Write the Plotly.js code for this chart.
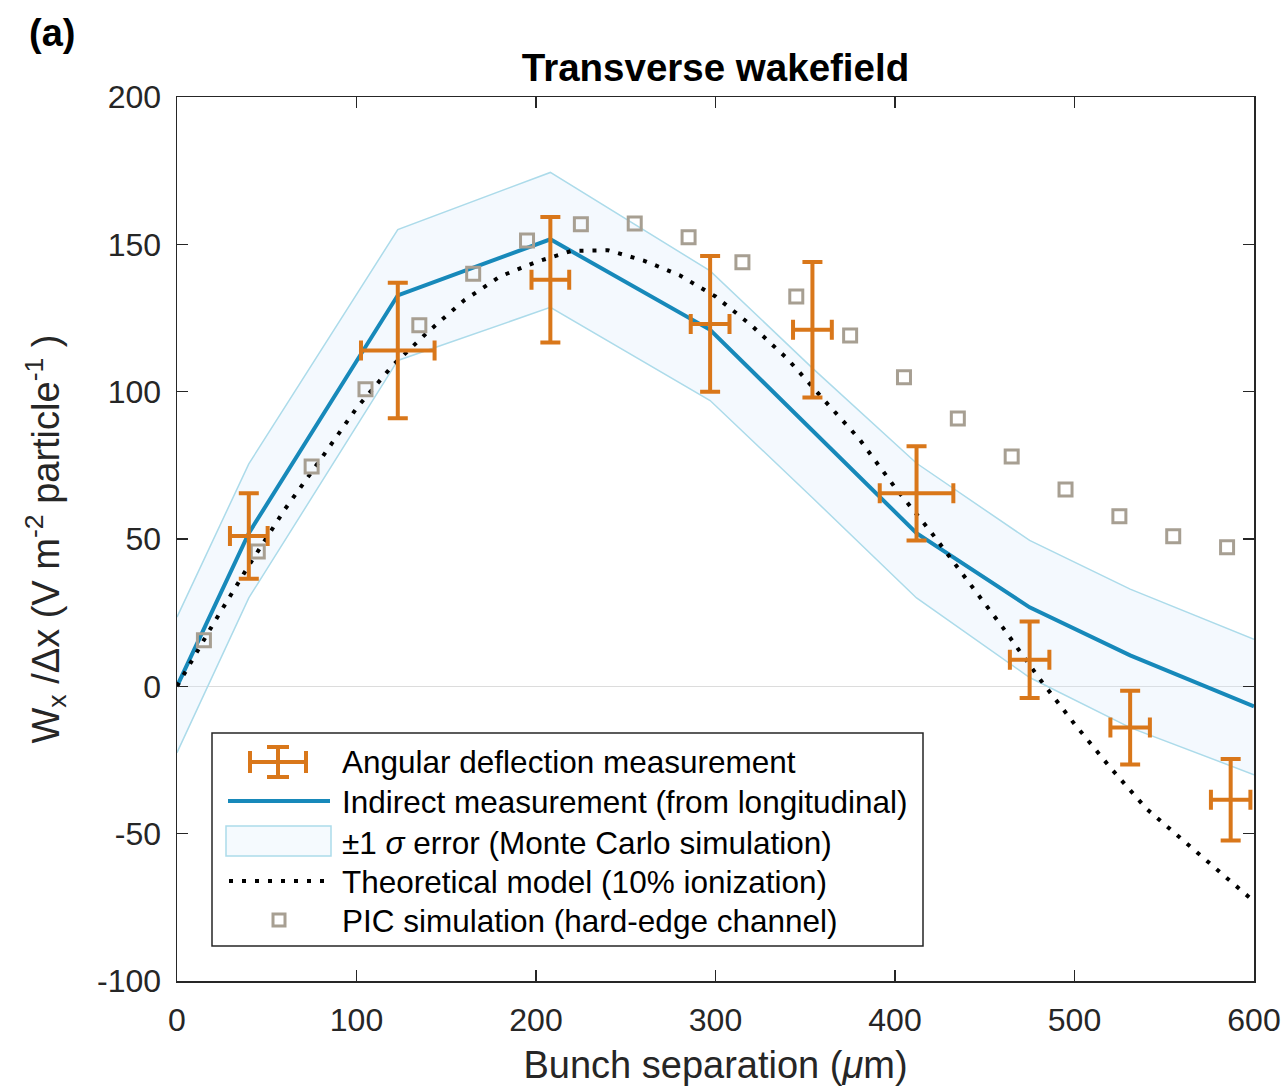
<!DOCTYPE html>
<html>
<head>
<meta charset="utf-8">
<script src="https://cdn.plot.ly/plotly-3.0.1.min.js"></script>
<style>html,body{margin:0;padding:0;background:#fff;}#chart{width:1284px;height:1088px;}</style>
</head>
<body>
<div id="chart"></div>
<script>
// ---- Data ----
// Angular deflection measurement
const measX    = [40, 123, 208, 297, 354, 412, 475, 531, 587];
const measY    = [51, 114, 138, 123, 121, 65.5, 9, -14, -38.5];
const measYErr = [14.5, 23, 21.3, 23, 23, 16, 13, 12.5, 13.8];
const measXErr = [10.5, 20.5, 10.5, 10.8, 10.8, 20.5, 11, 11, 11];

// Indirect measurement (from longitudinal) and ±1 sigma band
const indX     = [0, 40, 123, 208, 297, 354, 412, 475, 531, 600];
const indY     = [0, 52, 132.7, 151.7, 121, 87, 52, 26.8, 10.5, -6.8];
const bandUp   = [23.5, 75.5, 155, 174.4, 141, 108, 75.7, 49.5, 33, 16];
const bandLow  = [-22.5, 30, 110.6, 128.6, 97, 64, 30, 3, -14, -30];

// Theoretical model (10% ionization)
const theoX = [0, 20, 40, 60, 80, 100, 120, 140, 160, 180, 200, 220, 240, 260, 280, 300,
               320, 340, 360, 380, 400, 420, 440, 460, 480, 500, 520, 540, 560, 580, 600];
const theoY = [0, 21, 41, 60, 77, 94.4, 108.8, 120.4, 131, 139.1, 144, 147.8, 148, 144.5, 139.5, 132.3,
               122.5, 111.2, 97.5, 84, 67.5, 52.4, 36.2, 20, 3, -12.8, -27.6, -41.5, -52, -62.7, -73];

// PIC simulation (hard-edge channel)
const picX = [15, 45, 75, 105, 135, 165, 195, 225, 255, 285, 315, 345, 375, 405, 435, 465, 495, 525, 555, 585];
const picY = [15.6, 45.8, 74.6, 100.8, 122.5, 140, 151.3, 156.8, 157.1, 152.4, 143.9, 132.3, 119.1, 104.9, 90.9, 78, 66.8, 57.7, 50.9, 47.2];

// Axis ticks
const xTicks = [0, 100, 200, 300, 400, 500, 600];
const yTicks = [-100, -50, 0, 50, 100, 150, 200];

// Legend labels
const legendLabels = [
  'Angular deflection measurement',
  'Indirect measurement (from longitudinal)',
  '\u00b11 <i>\u03c3</i> error (Monte Carlo simulation)',
  'Theoretical model (10% ionization)',
  'PIC simulation (hard-edge channel)'
];

// ---- Styles ----
const ORANGE = '#d9771a';
const BLUE = '#1789ba';
const BAND_LINE = '#acdbea';
const BAND_FILL = 'rgba(214,235,250,0.28)';
const PIC = '#a79f92';
const AX = '#262626';
const FONT = 'Liberation Sans, Arial, Helvetica, sans-serif';

const traces = [
  {x: indX, y: bandLow, mode: 'lines', line: {color: BAND_LINE, width: 1.5}, hoverinfo: 'skip', showlegend: false},
  {x: indX, y: bandUp, mode: 'lines', line: {color: BAND_LINE, width: 1.5}, fill: 'tonexty', fillcolor: BAND_FILL, hoverinfo: 'skip', showlegend: false},
  {x: indX, y: indY, mode: 'lines', line: {color: BLUE, width: 4}, showlegend: false},
  {x: theoX, y: theoY, mode: 'lines', line: {color: '#000000', width: 4, dash: '4px,9px'}, showlegend: false},
  {x: picX, y: picY, mode: 'markers', marker: {symbol: 'square-open', size: 13, color: PIC, line: {width: 3, color: PIC}}, showlegend: false},
  {x: measX, y: measY, mode: 'markers', marker: {size: 2, color: ORANGE, opacity: 0},
   error_y: {type: 'data', array: measYErr, symmetric: true, color: ORANGE, thickness: 4, width: 10},
   error_x: {type: 'data', array: measXErr, symmetric: true, color: ORANGE, thickness: 4, width: 10},
   showlegend: false}
];

// plot-area pixel helpers for legend box placement
const L = 177, R = 1254, T = 97, B = 981;
const W = R - L, H = B - T;
const px = v => (v - L) / W;
const py = v => (B - v) / H;

const shapes = [
  {type: 'rect', xref: 'paper', yref: 'paper', x0: px(212), x1: px(923), y0: py(946), y1: py(733),
   line: {color: AX, width: 1.5}, fillcolor: '#ffffff', layer: 'above'},
  // row 1: error cross
  {type: 'line', xref: 'paper', yref: 'paper', x0: px(250), x1: px(306), y0: py(762), y1: py(762), line: {color: ORANGE, width: 4}, layer: 'above'},
  {type: 'line', xref: 'paper', yref: 'paper', x0: px(250), x1: px(250), y0: py(751), y1: py(773), line: {color: ORANGE, width: 4}, layer: 'above'},
  {type: 'line', xref: 'paper', yref: 'paper', x0: px(306), x1: px(306), y0: py(751), y1: py(773), line: {color: ORANGE, width: 4}, layer: 'above'},
  {type: 'line', xref: 'paper', yref: 'paper', x0: px(278), x1: px(278), y0: py(747), y1: py(777), line: {color: ORANGE, width: 4}, layer: 'above'},
  {type: 'line', xref: 'paper', yref: 'paper', x0: px(267), x1: px(289), y0: py(747), y1: py(747), line: {color: ORANGE, width: 4}, layer: 'above'},
  {type: 'line', xref: 'paper', yref: 'paper', x0: px(267), x1: px(289), y0: py(777), y1: py(777), line: {color: ORANGE, width: 4}, layer: 'above'},
  // row 2: blue line
  {type: 'line', xref: 'paper', yref: 'paper', x0: px(228), x1: px(330), y0: py(801), y1: py(801), line: {color: BLUE, width: 4}, layer: 'above'},
  // row 3: band rect
  {type: 'rect', xref: 'paper', yref: 'paper', x0: px(226), x1: px(331), y0: py(856), y1: py(826), line: {color: BAND_LINE, width: 1.5}, fillcolor: '#f5fafe', layer: 'above'},
  // row 4: dotted line
  {type: 'line', xref: 'paper', yref: 'paper', x0: px(229), x1: px(330), y0: py(881), y1: py(881), line: {color: '#000000', width: 4, dash: '4px,9px'}, layer: 'above'},
  // row 5: square
  {type: 'rect', xref: 'paper', yref: 'paper', x0: px(273), x1: px(285), y0: py(926), y1: py(914), line: {color: PIC, width: 3}, fillcolor: 'rgba(0,0,0,0)', layer: 'above'}
];

const rowY = [762, 802, 843, 882, 921];
const annotations = legendLabels.map((t, i) => ({
  xref: 'paper', yref: 'paper', x: px(340), y: py(rowY[i]), xanchor: 'left', yanchor: 'middle',
  text: t, showarrow: false, font: {family: FONT, size: 31.5, color: '#000000'}
}));
annotations.push({
  xref: 'paper', yref: 'paper', x: px(27), y: py(33), xanchor: 'left', yanchor: 'middle',
  text: '<b>(a)</b>', showarrow: false, font: {family: FONT, size: 38, color: '#000000'}
});

const layout = {
  width: 1284, height: 1088,
  paper_bgcolor: '#ffffff', plot_bgcolor: '#ffffff',
  margin: {l: L, r: 1284 - R, t: T, b: 1088 - B, pad: 0},
  font: {family: FONT, color: AX},
  title: {text: '<b>Transverse wakefield</b>', font: {family: FONT, size: 38.5, color: '#000000'},
          xref: 'paper', x: 0.5, xanchor: 'center', yref: 'container', y: 1 - 68 / 1088, yanchor: 'middle'},
  xaxis: {
    range: [0, 600], tickvals: xTicks, ticktext: xTicks.map(String),
    showline: true, linecolor: AX, linewidth: 1.5, mirror: 'ticks',
    ticks: 'inside', ticklen: 11, tickwidth: 1.5, tickcolor: AX,
    showgrid: false, zeroline: false,
    tickfont: {family: FONT, size: 32, color: AX}, ticklabelstandoff: 10,
    title: {text: 'Bunch separation (<i>\u03bc</i>m)', font: {family: FONT, size: 38, color: AX}, standoff: 14}
  },
  yaxis: {
    range: [-100, 200], tickvals: yTicks, ticktext: yTicks.map(String),
    showline: true, linecolor: AX, linewidth: 1.5, mirror: 'ticks',
    ticks: 'inside', ticklen: 11, tickwidth: 1.5, tickcolor: AX,
    showgrid: false, zeroline: true, zerolinecolor: '#dcdcdc', zerolinewidth: 1.5,
    tickfont: {family: FONT, size: 32, color: AX}, ticklabelstandoff: 8,
    title: {text: 'W<sub>x</sub> /\u0394x (V m<sup>-2</sup> particle<sup>-1</sup> )', font: {family: FONT, size: 38, color: AX}, standoff: 26}
  },
  shapes: shapes,
  annotations: annotations,
  showlegend: false
};

Plotly.newPlot('chart', traces, layout, {staticPlot: true, displayModeBar: false});
</script>
</body>
</html>
